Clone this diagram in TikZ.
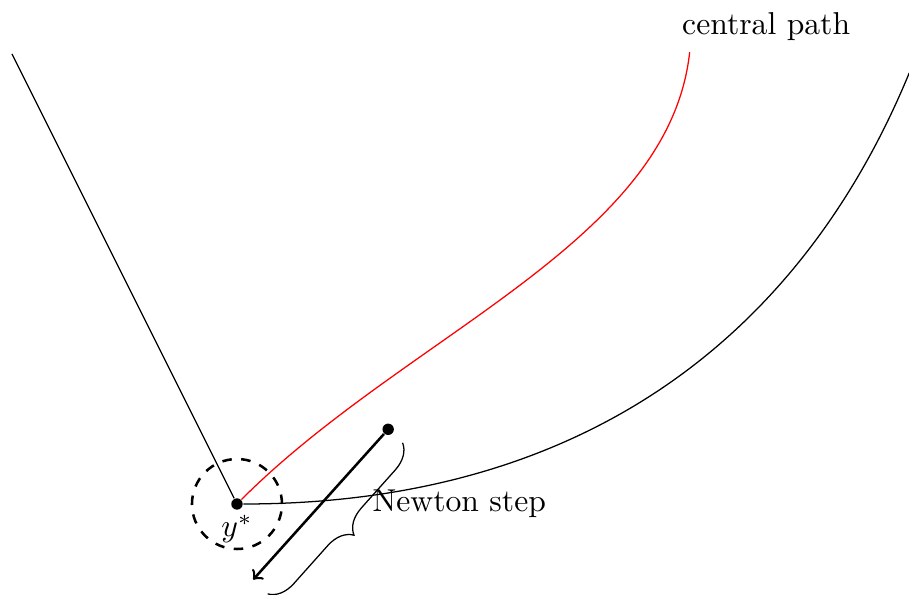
\documentclass[tikz,border=0pt]{standalone}
\usepackage{tikz}
\usetikzlibrary{decorations.pathreplacing,calc}

\begin{document}
\begin{tikzpicture}[
    dot/.style={circle, fill=black, inner sep=0pt, minimum size=3.6pt},
    ball/.style={circle, draw, thick, dashed, minimum size=1cm, inner sep=0pt},
    newtonarrow/.style={->, thick},
    bracedeco/.style={decorate, decoration={brace, amplitude=8pt}}
]
    \useasboundingbox (-2.633,-1.011) rectangle (7.467,5.6);

    % optimum and its neighbourhood
    \node[ball] (ball) at (0,0) {};
    \node[dot] (ystar) at (0,0) {};
    \node[below] (ylabel) at (ystar.center) {$y^*$};

    \coordinate (lefttop) at (-2.5,5);
    \coordinate (cpend) at (5.03,5.02);
    \coordinate (rightend) at (7.47,4.79);

    \draw (ystar) -- (lefttop);
    \draw (ystar) .. controls (4,0) and (6.32,2.0) .. (rightend);
    \draw[red] (ystar) .. controls (1.9,1.9) and (4.8,2.9) .. (cpend);

    \node (cplabel) at (5.88,5.31) {central path};

    % Newton step
    \node[dot] (xk) at (1.68,0.83) {};
    \coordinate (xnext) at (0.18,-0.84);
    \draw[newtonarrow] (xk) -- (xnext);

    \coordinate (bracetop) at ($(xk)+(0.16,-0.15)$);
    \coordinate (bracebot) at ($(xnext)+(0.16,-0.16)$);
    \draw[bracedeco] (bracetop) -- (bracebot);
    \node (steplabel) at (2.47,0) {Newton step};
\end{tikzpicture}
\end{document}
